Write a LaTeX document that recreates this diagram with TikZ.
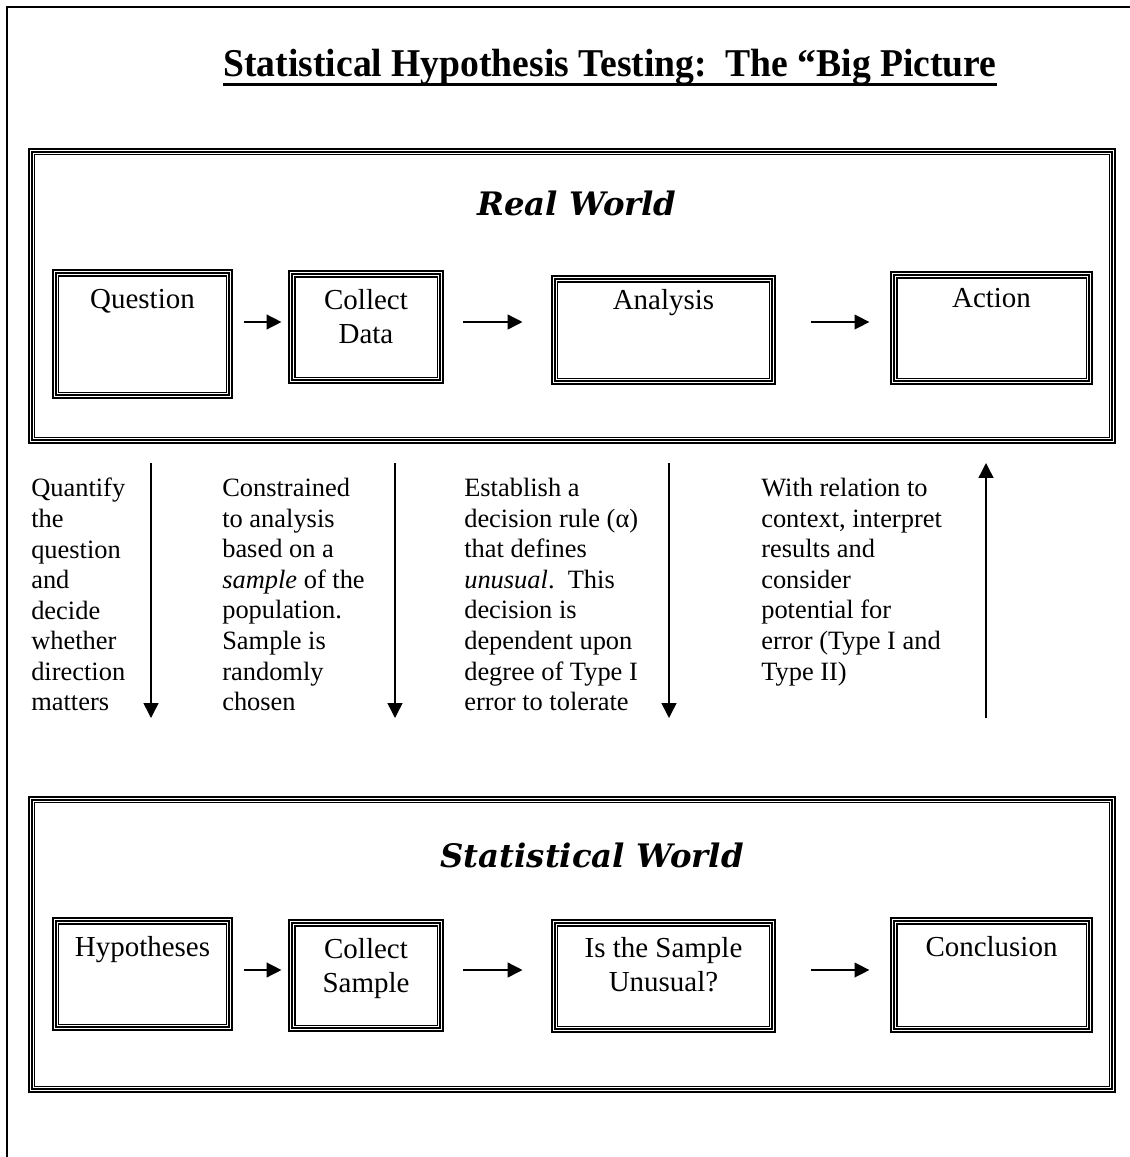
\documentclass[tikz,border=0pt]{standalone}
\usepackage{fontspec}
\setmainfont{Liberation Serif}
\newfontfamily\worldfont{DejaVu Serif}
\usetikzlibrary{positioning,arrows.meta}

\begin{document}
\begin{tikzpicture}[x=0.025cm,y=-0.025cm,
tribox/.style={draw,line width=5pt,postaction={draw=white,line width=3.2pt},postaction={draw,line width=1.6pt}},
boxtext/.style={font=\fontsize{20.6}{24.2}\selectfont,align=center,anchor=north,inner sep=0pt},
note/.style={font=\fontsize{18.8}{21.75}\selectfont,align=left,anchor=north west,inner sep=0pt},
world/.style={font=\worldfont\bfseries\itshape\fontsize{23}{27}\selectfont,inner sep=0pt},
arr/.style={-{Triangle[length=10.5pt,width=10.5pt]},line width=1pt}]
\useasboundingbox (0,0) rectangle (1130,1157);
\draw[line width=0.8pt] (1130,7) -- (7,7) -- (7,1157);

\node[inner sep=0pt,anchor=base,xscale=0.955,transform shape,font=\bfseries\fontsize{28}{32}\selectfont] (title) at (610,76)
  {Statistical Hypothesis Testing:\ \ The “Big Picture};
\draw[line width=2.3pt] ([yshift=-5.9pt]title.base west) -- ([yshift=-5.9pt]title.base east);

% real world
\node[tribox,minimum width=27cm,minimum height=7.2cm] (real) at (572,296) {};
\node[world] (realname) at (577,203) {Real World};
\node[tribox,minimum width=4.325cm,minimum height=3.05cm] (question) at (142.5,334) {};
\node[tribox,minimum width=3.7cm,minimum height=2.65cm] (data) at (366,327) {};
\node[tribox,minimum width=5.425cm,minimum height=2.55cm] (analysis) at (663.5,330) {};
\node[tribox,minimum width=4.875cm,minimum height=2.65cm] (action) at (991.5,328) {};
\node[boxtext] (questiontext) at (142.5,289) {Question};
\node[boxtext] (datatext) at (366,289) {Collect\\Data};
\node[boxtext] (analysistext) at (663.5,289) {Analysis};
\node[boxtext] (actiontext) at (991.5,288) {Action};
\draw[arr,shorten <=7.8pt,shorten >=5pt] (question.east |- 0,322) -- (data.west |- 0,322);
\draw[arr,shorten <=13.5pt,shorten >=20.6pt] (data.east |- 0,322) -- (analysis.west |- 0,322);
\draw[arr,shorten <=24.9pt,shorten >=15pt] (analysis.east |- 0,322) -- (action.west |- 0,322);

% statistical world
\node[tribox,minimum width=27cm,minimum height=7.225cm] (stat) at (572,944.5) {};
\node[world] (statname) at (592,855) {Statistical World};
\node[tribox,minimum width=4.325cm,minimum height=2.65cm] (hypo) at (142.5,974) {};
\node[tribox,minimum width=3.7cm,minimum height=2.625cm] (sample) at (366,975.5) {};
\node[tribox,minimum width=5.425cm,minimum height=2.65cm] (unusual) at (663.5,976) {};
\node[tribox,minimum width=4.875cm,minimum height=2.7cm] (concl) at (991.5,975) {};
\node[boxtext] (hypotext) at (142.5,936) {Hypotheses};
\node[boxtext] (sampletext) at (366,938) {Collect\\Sample};
\node[boxtext] (unusualtext) at (663.5,937) {Is the Sample\\Unusual?};
\node[boxtext] (concltext) at (991.5,936) {Conclusion};
\draw[arr,shorten <=7.8pt,shorten >=5pt] (hypo.east |- 0,970) -- (sample.west |- 0,970);
\draw[arr,shorten <=13.5pt,shorten >=20.6pt] (sample.east |- 0,970) -- (unusual.west |- 0,970);
\draw[arr,shorten <=24.9pt,shorten >=15pt] (unusual.east |- 0,970) -- (concl.west |- 0,970);

% links between the two worlds
\coordinate (q1) at (151,463);
\coordinate (q2) at (151,718);
\coordinate (c1) at (395,463);
\coordinate (c2) at (395,718);
\coordinate (d1) at (669,463);
\coordinate (d2) at (669,718);
\coordinate (r1) at (986,718);
\coordinate (r2) at (986,463);
\draw[arr] (q1) -- (q2);
\draw[arr] (c1) -- (c2);
\draw[arr] (d1) -- (d2);
\draw[arr] (r1) -- (r2);
\node[note] (quantify) at (31,478) {Quantify\\the\\question\\and\\decide\\whether\\direction\\matters};
\node[note] (constrained) at (222,478) {Constrained\\to analysis\\based on a\\\textit{sample} of the\\population.\\Sample is\\randomly\\chosen};
\node[note] (establish) at (464,478) {Establish a\\decision rule (α)\\that defines\\\textit{unusual}.\ \ This\\decision is\\dependent upon\\degree of Type I\\error to tolerate};
\node[note] (relation) at (761,478) {With relation to\\context, interpret\\results and\\consider\\potential for\\error (Type I and\\Type II)};
\end{tikzpicture}
\end{document}
